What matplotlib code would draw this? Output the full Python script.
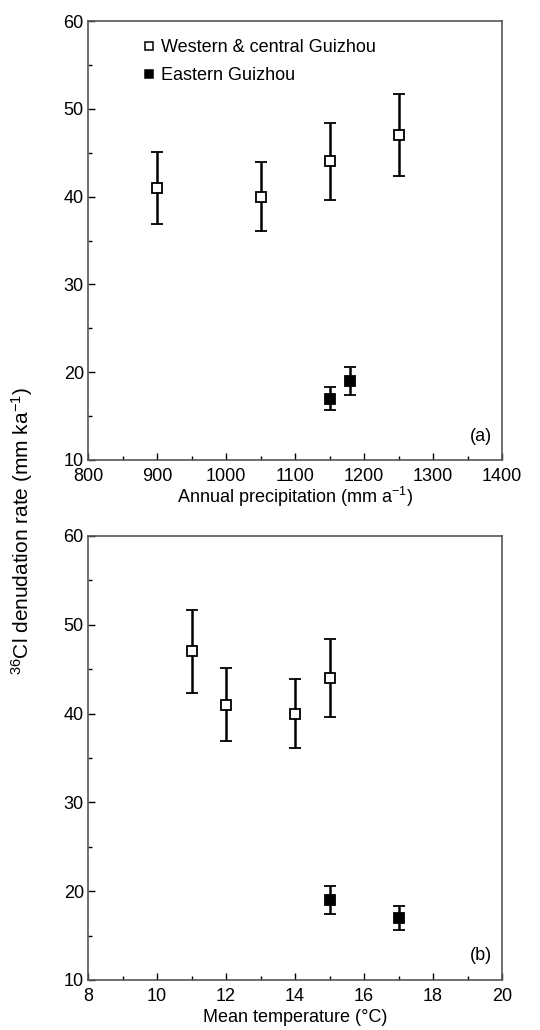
import numpy as np
import matplotlib
matplotlib.use("Agg")
import matplotlib.pyplot as plt
from matplotlib.ticker import MultipleLocator
from matplotlib.lines import Line2D

plt.rcParams["font.family"] = ["Liberation Sans", "DejaVu Sans"]
plt.rcParams["font.size"] = 13
plt.rcParams["mathtext.default"] = "regular"

# Western & central Guizhou
west_precip = [900, 1050, 1150, 1250]
west_temp = [12, 14, 15, 11]
west_rate = [41, 40, 44, 47]
west_err = [4.1, 3.9, 4.4, 4.7]

# Eastern Guizhou
east_precip = [1150, 1180]
east_temp = [17, 15]
east_rate = [17, 19]
east_err = [1.35, 1.55]

fig = plt.figure(figsize=(5.4, 10.3), dpi=100)
ax1 = fig.add_axes([88/540, 1 - 460/1030, 414/540, 439/1030])
ax2 = fig.add_axes([88/540, 1 - 980/1030, 414/540, 444/1030])

err_kw = dict(ls="none", marker="s", ms=7.5, mew=1.3, ecolor="black",
              elinewidth=1.8, capsize=4.5, capthick=1.8, mec="black")

for ax, xw, xe in [(ax1, west_precip, east_precip), (ax2, west_temp, east_temp)]:
    ax.errorbar(xw, west_rate, yerr=west_err, mfc="white", **err_kw)
    ax.errorbar(xe, east_rate, yerr=east_err, mfc="black", **err_kw)
    ax.set_ylim(10, 60)
    ax.yaxis.set_major_locator(MultipleLocator(10))
    ax.yaxis.set_minor_locator(MultipleLocator(5))
    ax.tick_params(which="both", direction="in", top=False, right=False,
                   color="black", labelsize=13)
    ax.tick_params(axis="y", pad=3)
    ax.tick_params(axis="x", pad=6)
    ax.tick_params(which="major", length=5, width=1)
    ax.tick_params(which="minor", length=3, width=1)
    for s in ax.spines.values():
        s.set_color("#555555")
        s.set_linewidth(1.2)

ax1.set_xlim(800, 1400)
ax1.xaxis.set_major_locator(MultipleLocator(100))
ax1.xaxis.set_minor_locator(MultipleLocator(50))
ax1.set_xlabel("Annual precipitation (mm a$^{-1}$)", labelpad=0)
ax1.text(0.975, 0.035, "(a)", transform=ax1.transAxes, ha="right", va="bottom")

handles = [Line2D([], [], ls="none", marker="s", ms=6, mew=1.1, mec="black", mfc="white"),
           Line2D([], [], ls="none", marker="s", ms=6, mew=1.1, mec="black", mfc="black")]
ax1.legend(handles, ["Western & central Guizhou", "Eastern Guizhou"],
           loc="upper left", bbox_to_anchor=(0.09, 0.995), frameon=False,
           handletextpad=0.3, handlelength=0.8, labelspacing=0.6)

ax2.set_xlim(8, 20)
ax2.xaxis.set_major_locator(MultipleLocator(2))
ax2.xaxis.set_minor_locator(MultipleLocator(1))
ax2.set_xlabel("Mean temperature (°C)", labelpad=3)
ax2.text(0.975, 0.035, "(b)", transform=ax2.transAxes, ha="right", va="bottom")

fig.text(22/540, 1 - 531/1030, "$^{36}$Cl denudation rate (mm ka$^{-1}$)", rotation=90,
         ha="center", va="center", fontsize=15)

fig.savefig("out.png", dpi=100)
